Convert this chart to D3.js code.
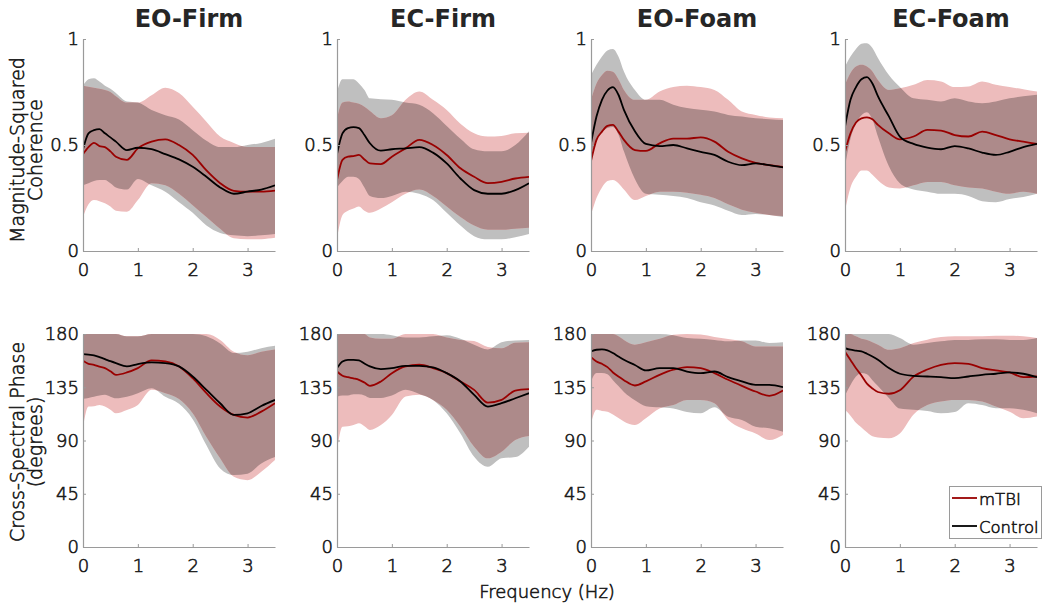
<!DOCTYPE html>
<html><head><meta charset="utf-8">
<script src="https://cdn.jsdelivr.net/npm/d3@7"></script>
<style>
html,body{margin:0;padding:0;background:#fff;}
svg{display:block;font-family:"DejaVu Sans",sans-serif;}
.thin{font-weight:200;fill:#1a1a1a;stroke:#1a1a1a;stroke-width:0.6px;}
</style></head>
<body><svg id="chart" width="1050" height="611"></svg>
<script>
// ---------------- DATA ----------------
const freq = [0,0.1,0.2,0.3,0.4,0.5,0.6,0.8,1.0,1.25,1.5,1.75,2.0,2.25,2.5,2.75,3.0,3.25,3.5];
const conditions = ["EO-Firm","EC-Firm","EO-Foam","EC-Foam"];
const seriesNames = ["mTBI","Control"];
const xTicks = [0,1,2,3];
const mscTicks = [0,0.5,1];
const phaseTicks = [0,45,90,135,180];
const mscLabel = ["Magnitude-Squared","Coherence"];
const phaseLabel = ["Cross-Spectral Phase","(degrees)"];
const xLabel = "Frequency (Hz)";

// Magnitude-squared coherence, one array per condition
const mscCtrlMean = [
  [0.48,0.555,0.57,0.575,0.555,0.536,0.516,0.476,0.487,0.48,0.457,0.432,0.397,0.35,0.30,0.27,0.28,0.29,0.31],
  [0.457,0.555,0.58,0.584,0.58,0.547,0.508,0.473,0.48,0.484,0.49,0.464,0.413,0.342,0.287,0.27,0.27,0.287,0.32],
  [0.508,0.634,0.713,0.757,0.773,0.737,0.666,0.565,0.505,0.495,0.50,0.484,0.468,0.453,0.421,0.405,0.413,0.405,0.394],
  [0.587,0.713,0.773,0.81,0.82,0.79,0.73,0.635,0.54,0.505,0.488,0.48,0.495,0.484,0.464,0.453,0.468,0.49,0.505]
];
const mscCtrlHi = [
  [0.78,0.81,0.815,0.80,0.78,0.765,0.745,0.705,0.70,0.665,0.64,0.62,0.57,0.52,0.49,0.49,0.50,0.51,0.53],
  [0.75,0.81,0.81,0.81,0.79,0.76,0.72,0.716,0.713,0.70,0.69,0.65,0.59,0.53,0.48,0.47,0.47,0.50,0.565],
  [0.83,0.878,0.918,0.946,0.953,0.918,0.847,0.76,0.713,0.713,0.69,0.674,0.666,0.658,0.642,0.634,0.626,0.622,0.618],
  [0.87,0.918,0.953,0.978,0.98,0.957,0.91,0.83,0.773,0.72,0.713,0.705,0.72,0.705,0.697,0.705,0.72,0.73,0.737]
];
const mscCtrlLo = [
  [0.31,0.32,0.33,0.335,0.335,0.32,0.30,0.29,0.34,0.31,0.28,0.23,0.18,0.12,0.085,0.074,0.07,0.074,0.08],
  [0.30,0.33,0.35,0.35,0.34,0.30,0.26,0.25,0.26,0.28,0.27,0.24,0.18,0.12,0.07,0.055,0.055,0.065,0.08],
  [0.45,0.52,0.56,0.58,0.585,0.55,0.47,0.34,0.27,0.265,0.26,0.25,0.23,0.215,0.19,0.17,0.175,0.17,0.16],
  [0.40,0.53,0.60,0.64,0.655,0.62,0.54,0.40,0.32,0.29,0.28,0.27,0.27,0.26,0.235,0.23,0.245,0.255,0.27]
];
const mscMtbiMean = [
  [0.457,0.49,0.51,0.495,0.49,0.47,0.445,0.43,0.484,0.516,0.527,0.50,0.453,0.38,0.32,0.284,0.28,0.28,0.285],
  [0.334,0.43,0.445,0.448,0.453,0.432,0.413,0.41,0.445,0.484,0.524,0.50,0.453,0.39,0.35,0.32,0.326,0.342,0.35],
  [0.424,0.524,0.563,0.59,0.595,0.563,0.524,0.476,0.472,0.508,0.53,0.53,0.536,0.516,0.468,0.437,0.416,0.405,0.397],
  [0.468,0.555,0.606,0.626,0.63,0.621,0.595,0.555,0.527,0.54,0.571,0.568,0.547,0.54,0.563,0.547,0.527,0.516,0.505]
];
const mscMtbiHi = [
  [0.78,0.775,0.77,0.765,0.76,0.75,0.73,0.70,0.70,0.735,0.77,0.745,0.68,0.61,0.54,0.51,0.49,0.49,0.49],
  [0.626,0.70,0.705,0.70,0.694,0.68,0.66,0.626,0.64,0.713,0.752,0.713,0.665,0.60,0.555,0.54,0.543,0.555,0.558],
  [0.713,0.79,0.83,0.85,0.845,0.81,0.76,0.713,0.713,0.752,0.773,0.78,0.773,0.76,0.713,0.658,0.642,0.63,0.626],
  [0.784,0.84,0.87,0.878,0.87,0.847,0.807,0.76,0.768,0.784,0.807,0.80,0.773,0.776,0.80,0.784,0.773,0.763,0.752]
];
const mscMtbiLo = [
  [0.16,0.22,0.24,0.235,0.225,0.21,0.19,0.185,0.24,0.32,0.31,0.27,0.216,0.16,0.105,0.06,0.056,0.056,0.062],
  [0.06,0.17,0.19,0.20,0.21,0.19,0.18,0.20,0.23,0.27,0.29,0.26,0.21,0.16,0.12,0.10,0.10,0.105,0.11],
  [0.17,0.25,0.30,0.33,0.335,0.32,0.29,0.24,0.26,0.28,0.28,0.275,0.265,0.25,0.22,0.195,0.18,0.17,0.165],
  [0.19,0.30,0.35,0.38,0.38,0.36,0.334,0.30,0.295,0.31,0.326,0.326,0.31,0.30,0.295,0.28,0.27,0.28,0.27]
];

// Cross-spectral phase (degrees), one array per condition
const phCtrlMean = [
  [163,162.5,162,160.5,158.8,157,155.4,152.6,154.6,156,155.4,152.6,144.1,132.8,121.5,111.6,113,119.2,124.3],
  [151.2,156.8,158.2,158.2,157.7,155,152.6,150.3,151.2,153.1,153.1,151.7,146.9,139.9,128.6,118.7,121.5,125.7,130],
  [165.3,166.7,167,166.2,163.9,161,158.2,153.8,149.2,151.2,151.2,148.3,146.9,148.3,143.5,139.9,137,137,135],
  [168,166.7,166,165.3,163.3,161,158.2,151.2,146.4,144.7,144.1,143.5,142.7,144.1,145.5,146.4,147.5,146.4,143.5]
];
const phCtrlHi = [
  [180,180,180,180,180,180,180,178,178,180,180,180,180,178,172,164,165,168,170],
  [180,180,180,180,180,180,180,180,179,177,177,178,179,176,171,167,173,174.6,175],
  [180,180,180,180,180,180,180,180,180,180,179,176.6,176,175,173.8,174.6,174.6,172.4,173],
  [180,180,180,180,180,180,180,180,176.6,171,172.4,173.8,175,175,175.5,175.5,175,175,176.6]
];
const phCtrlLo = [
  [125.2,126,127,128,128.6,127,125.7,127,130,134.2,127,121,108,86,66.4,60.8,62,70.6,76],
  [127,128,128,129,129,128,126,126,128,132.8,129.4,124.3,113,96,76.3,67.8,75,76,84.8],
  [140,147,147,146,141,136,131,124,119,118,117,114,113,118,110,107.4,101.7,100.3,97.5],
  [128,137,144,147,146,141,136,126,117,116,115,113,114,121.5,120,117.3,117.3,115.9,113]
];
const phMtbiMean = [
  [157.4,154.8,154,152.5,151.2,148.5,145.5,147.5,151.2,157.7,156.8,152.6,142.7,130,118.7,111.6,109.4,114.4,121.5],
  [148.3,144.7,143.5,142.5,141.3,139,136.2,139.9,146.9,152.6,154,151.2,146.9,139.9,132.8,122,124.3,132.2,133.4],
  [160.5,156.8,154.8,152,147.5,144,141,136.5,139.9,145.5,149.8,152,151.2,146.9,141.3,136.2,131.4,127.7,132.2],
  [165,158,151,145,138,134,131,129.5,132.5,144,150,154,155.4,154.8,151.2,149.2,147.5,143.5,144.1]
];
const phMtbiHi = [
  [180,180,180,180,180,180,180,178,178,180,180,180,180,180,175,165,162,165,167],
  [180,180,180,180,180,180,177,176,176,180,180,180,177,175,174,169,168,172.6,173],
  [180,180,180,180,180,178,175,171,173,176,179.4,180,179.5,177.4,175.7,173.8,169.5,169.5,169.5],
  [180,180,178,176,175,173,171,166.7,168,172.4,175.2,177.4,178,178,178,178.5,178.6,178,176.6]
];
const phMtbiLo = [
  [101.7,118.7,119,120,118.7,116,113,115.8,120,132.8,130,125,113,93,74.9,59.3,56.5,63.6,73.5],
  [82,101.7,102,103,104.5,102,98.9,103,111.6,127.2,128.6,124.3,115.9,101.7,84.8,74.9,80.5,90.4,93.8],
  [104.5,115.9,115,114.4,112,109,106,103,108.7,117,120,124.3,124.3,121.5,107.4,100.3,96,90.4,94.7],
  [116,111,105,101,97,93.5,92.5,92,96,112,120,123,124.3,124.3,122.9,118.7,114.4,108.8,110.2]
];

// ---------------- LAYOUT / STYLE ----------------
const panelLeft = [83,337,591,845];
const panelW = 192;
const rows = [
  {top:39, bottom:251, domain:[0,1], ticks:mscTicks, label:mscLabel, labelY:150,
   cm:mscCtrlMean, ch:mscCtrlHi, cl:mscCtrlLo, mm:mscMtbiMean, mh:mscMtbiHi, ml:mscMtbiLo},
  {top:334, bottom:547, domain:[0,180], ticks:phaseTicks, label:phaseLabel, labelY:442,
   cm:phCtrlMean, ch:phCtrlHi, cl:phCtrlLo, mm:phMtbiMean, mh:phMtbiHi, ml:phMtbiLo}
];
const colGrayBand = "#bfbfbf", colPinkBand = "#edbcbc", colOverlap = "#ad8a8a";
const colRed = "#990000", colBlack = "#000000";
const axisCol = "#9a9a9a", textCol = "#262626";

const svg = d3.select("#chart");
const defs = svg.append("defs");
let uid = 0;
const idx = freq.map((f,k)=>k);

rows.forEach((row, ri) => {
  conditions.forEach((cond, ci) => {
    const x = d3.scaleLinear().domain([0,3.5]).range([panelLeft[ci], panelLeft[ci]+panelW]);
    const y = d3.scaleLinear().domain(row.domain).range([row.bottom, row.top]);
    const areaGen = (lo, hi) => d3.area().curve(d3.curveMonotoneX)
        .x(k=>x(freq[k])).y0(k=>y(lo[k])).y1(k=>y(hi[k]));
    const lineGen = arr => d3.line().curve(d3.curveMonotoneX)
        .x(k=>x(freq[k])).y(k=>y(arr[k]));

    const clipPlot = "plot"+uid;
    defs.append("clipPath").attr("id", clipPlot).append("rect")
      .attr("x", x(0)).attr("y", row.top).attr("width", panelW).attr("height", row.bottom-row.top);
    const clipGray = "gray"+(uid++);
    const ctrlArea = areaGen(row.cl[ci], row.ch[ci])(idx);
    const mtbiArea = areaGen(row.ml[ci], row.mh[ci])(idx);
    defs.append("clipPath").attr("id", clipGray).append("path").attr("d", ctrlArea);

    const g = svg.append("g").attr("clip-path", `url(#${clipPlot})`);
    g.append("path").attr("d", ctrlArea).attr("fill", colGrayBand);
    g.append("path").attr("d", mtbiArea).attr("fill", colPinkBand);
    g.append("g").attr("clip-path", `url(#${clipGray})`)
      .append("path").attr("d", mtbiArea).attr("fill", colOverlap);
    g.append("path").attr("d", lineGen(row.mm[ci])(idx)).attr("fill","none")
      .attr("stroke", colRed).attr("stroke-width", 1.8).attr("stroke-linejoin","round");
    g.append("path").attr("d", lineGen(row.cm[ci])(idx)).attr("fill","none")
      .attr("stroke", colBlack).attr("stroke-width", 1.8).attr("stroke-linejoin","round");

    // axes
    const xAxis = d3.axisBottom(x).tickValues(xTicks).tickFormat(d3.format("d"))
      .tickSizeInner(-3).tickSizeOuter(0).tickPadding(12);
    const gx = svg.append("g").attr("transform", `translate(0,${row.bottom})`).call(xAxis);
    const yAxis = d3.axisLeft(y).tickValues(row.ticks).tickFormat(d => String(d))
      .tickSizeInner(-3).tickSizeOuter(0).tickPadding(4);
    const gy = svg.append("g").attr("transform", `translate(${x(0)},0)`).call(yAxis);
    [gx, gy].forEach(ga => {
      ga.select(".domain").attr("stroke", axisCol).attr("stroke-width", 1.2);
      ga.selectAll(".tick line").attr("stroke", axisCol).attr("stroke-width", 1);
      ga.selectAll(".tick text").attr("class","thin").attr("fill", null).style("font-size","18px")
        .style("font-family","'DejaVu Sans',sans-serif");
    });
    gx.selectAll(".tick text").attr("dy","0.71em");

    if (ri === 0) {
      svg.append("text").attr("x", x(1.75)+10).attr("y", 27).attr("text-anchor","middle")
        .attr("fill", textCol).style("font-size","24px").style("font-weight","bold").text(cond);
    }
    if (ci === 0) {
      const lab = svg.append("text").attr("class","thin")
        .attr("transform", `translate(0,${row.labelY}) rotate(-90)`)
        .attr("text-anchor","middle").style("font-size","19px");
      lab.append("tspan").attr("x",0).attr("y",24).text(row.label[0]);
      lab.append("tspan").attr("x",0).attr("y",42).text(row.label[1]);
    }
  });
});

// x label
svg.append("text").attr("class","thin").attr("x", 547).attr("y", 598).attr("text-anchor","middle")
  .style("font-size","18px").text(xLabel);

// legend
const lg = svg.append("g");
lg.append("rect").attr("x", 949.5).attr("y", 486.5).attr("width", 92).attr("height", 52)
  .attr("fill","#fff").attr("stroke", axisCol).attr("stroke-width", 1);
[colRed, colBlack].forEach((c,i) => {
  const yy = 498 + i*28;
  lg.append("line").attr("x1", 952).attr("x2", 977).attr("y1", yy).attr("y2", yy)
    .attr("stroke", c).attr("stroke-width", 1.8);
  lg.append("text").attr("class","thin").attr("x", 979).attr("y", yy+6.5)
    .style("font-size","16.5px").text(seriesNames[i]);
});
</script></body></html>
